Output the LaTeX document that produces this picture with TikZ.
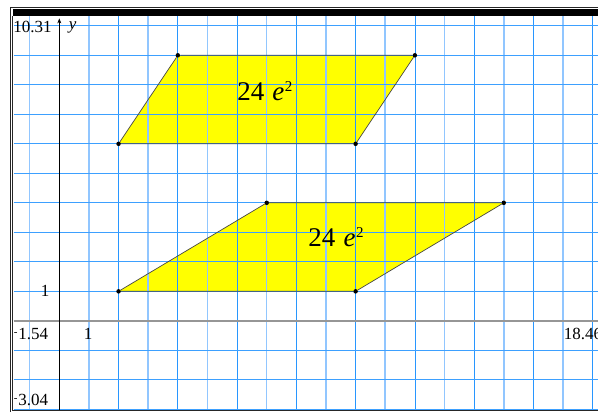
\documentclass[tikz,border=0pt]{standalone}
\usepackage{fontspec}
\setmainfont{Liberation Serif}
\usetikzlibrary{arrows.meta,backgrounds}
\definecolor{GridBlue}{RGB}{40,150,255}
\definecolor{GridPale}{RGB}{145,198,255}
\definecolor{AxisGray}{RGB}{150,150,150}
\definecolor{EdgeGray}{RGB}{70,70,70}
\definecolor{ShapeYellow}{RGB}{255,255,0}
\newcommand{\squnit}{24\hspace{0.3em}\textit{e}\hspace{0.02em}\raisebox{0.33em}{\fontsize{15}{15}\selectfont 2}}
\newcommand{\negsign}{\raisebox{0.25em}{\fontsize{11}{11}\selectfont -}\hspace{0.05em}}

\begin{document}
\begin{tikzpicture}[x=29.63pt, y=29.5pt,
  gridthin/.style  = {GridBlue, line width=0.7pt},
  gridpale/.style  = {GridPale, line width=1.5pt},
  gridrow/.style   = {GridBlue!80!GridPale, line width=0.9pt},
  vertex/.style    = {circle, fill=black, inner sep=0pt, minimum size=4.5pt},
  region/.style    = {fill=ShapeYellow},
  edge/.style      = {EdgeGray, line width=0.7pt},
  arealab/.style   = {font=\fontsize{27}{27}\selectfont, inner sep=0pt, anchor=base west},
  ticklab/.style   = {font=\fontsize{17}{17}\selectfont, inner sep=0pt},
  framebar/.style  = {line width=0.8pt, black!85}
]
  \useasboundingbox (-2.001,-3.092) rectangle (18.18,10.875);
  \clip (-2.001,-3.092) rectangle (18.18,10.875);

  \node[vertex] (ul) at (2,6) {};
  \node[vertex] (ur) at (10,6) {};
  \node[vertex] (ut) at (12,9) {};
  \node[vertex] (uk) at (4,9) {};
  \node[vertex] (ll) at (2,1) {};
  \node[vertex] (lr) at (10,1) {};
  \node[vertex] (lt) at (15,4) {};
  \node[vertex] (lk) at (7,4) {};

  \begin{scope}[on background layer]
    \fill[white] (-2.001,-3.092) rectangle (18.18,10.875);
    \fill[region] (ul.center) -- (ur.center) -- (ut.center) -- (uk.center) -- cycle;
    \fill[region] (ll.center) -- (lr.center) -- (lt.center) -- (lk.center) -- cycle;
    \foreach \gx in {-1,1,...,17}
      \draw[gridpale] (\gx,-3.04) -- (\gx,10.33);
    \foreach \gx in {2,4,...,18}
      \draw[gridthin] (\gx,-3.04) -- (\gx,10.33);
    \foreach \gy in {-3,...,10}
      \draw[gridrow] (-1.54,\gy) -- (18.46,\gy);
  \end{scope}

  \draw[edge] (ul) -- (ur) -- (ut) -- (uk) -- (ul);
  \draw[edge] (ll) -- (lr) -- (lt) -- (lk) -- (ll);

  \coordinate (xleft) at (-1.54,0);
  \coordinate (xright) at (18.46,0);
  \coordinate (ybottom) at (0,-3.04);
  \coordinate (ytop) at (0,10.25);
  \draw[AxisGray, line width=1.6pt] (xleft) -- (xright);
  \draw[black, line width=0.7pt, -{Stealth[length=5pt,width=4pt]}] (ybottom) -- (ytop);

  \node[arealab] (uarea) at (6.0,7.48) {\squnit};
  \node[arealab] (larea) at (8.4,2.51) {\squnit};

  \node[ticklab, anchor=west] (ymax) at (-1.56,9.96) {10.31};
  \node[ticklab] (ylab) at (0.45,9.93) {\textit{y}};
  \node[ticklab] (yone) at (-0.48,1.01) {1};
  \node[ticklab] (xone) at (0.97,-0.45) {1};
  \node[ticklab, anchor=west] (xmin) at (-1.54,-0.45) {\negsign 1.54};
  \node[ticklab, anchor=west] (ymin) at (-1.54,-2.68) {\negsign 3.04};
  \node[ticklab, anchor=west] (xmax) at (17.02,-0.45) {18.46};
  \node[ticklab, font=\fontsize{12}{12}\selectfont] (xlab) at (18.3,0.4) {\textit{x}};

  \draw[framebar] (-1.646,-3.092) -- (-1.646,10.637) -- (18.46,10.637);
  \draw[framebar] (-1.573,-3.04) -- (-1.573,10.33);
  \draw[framebar] (-1.573,-3.04) -- (18.46,-3.04);
  \fill[black] (-1.573,10.33) rectangle (18.46,10.57);
\end{tikzpicture}
\end{document}
